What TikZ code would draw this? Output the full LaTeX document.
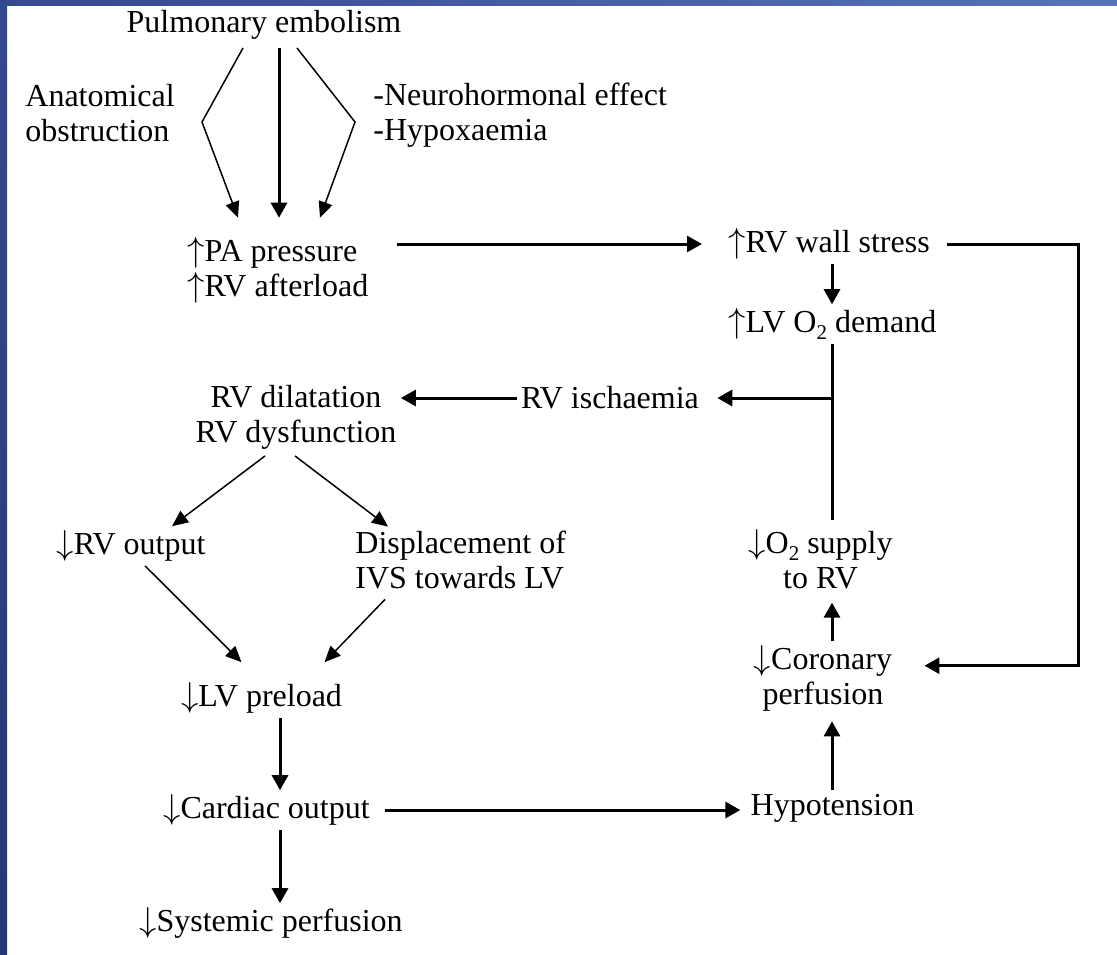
\documentclass[tikz,border=0pt]{standalone}
\usepackage{fontspec}
\setmainfont{Liberation Serif}
\usetikzlibrary{arrows.meta,positioning,calc}
\definecolor{FrameDark}{RGB}{36,56,118}
\definecolor{FrameMid}{RGB}{50,74,142}
\definecolor{FrameLight}{RGB}{86,116,182}
\newcommand{\upar}{$\uparrow$}
\newcommand{\dnar}{$\downarrow$}
\newcommand{\two}{\raisebox{-0.45ex}{\fontsize{10.5}{10.5}\selectfont 2}}

\begin{document}
\begin{tikzpicture}[x=0.5pt,y=-0.5pt,
    txt/.style={inner sep=2pt,font=\fontsize{16}{17.5}\selectfont},
    arr/.style={-{Triangle[length=7.5pt,width=8pt]},line width=1.5pt},
    thn/.style={-{Triangle[length=8pt,width=7pt]},line width=0.75pt},
    lin/.style={line width=1.5pt}
  ]
  \useasboundingbox (0,0) rectangle (1117,954);
  \shade[top color=FrameMid,bottom color=FrameDark] (0,0) rectangle (7,954);
  \shade[left color=FrameMid,right color=FrameLight] (0,0) rectangle (1117,5);

  \node[txt] (pe) at (264,25) {Pulmonary embolism};
  \node[txt,align=left,anchor=west] (anat) at (21,113) {Anatomical\\obstruction};
  \node[txt,align=left,anchor=west] (neuro) at (369,115.5) {-Neurohormonal effect\\-Hypoxaemia};
  \node[txt,align=left,anchor=west] (pa) at (183,270) {\upar PA pressure\\\upar RV afterload};
  \node[txt,anchor=west] (rvws) at (724,244) {\upar RV wall stress};
  \node[txt,anchor=west] (lvo2) at (724,324) {\upar LV O\two\ demand};
  \node[txt] (rvisch) at (610,398) {RV ischaemia};
  \node[txt,align=center] (rvdil) at (296,417.5) {RV dilatation\\RV dysfunction};
  \node[txt] (rvout) at (131,546) {\dnar RV output};
  \node[txt,align=left,anchor=west] (disp) at (351,560) {Displacement of\\IVS towards LV};
  \node[txt] (lvpre) at (261.5,698) {\dnar LV preload};
  \node[txt] (co) at (266.5,810) {\dnar Cardiac output};
  \node[txt] (sys) at (271,923) {\dnar Systemic perfusion};
  \node[txt] (hypo) at (832.5,808) {Hypotension};
  \node[txt,align=center] (cor) at (823,678) {\dnar Coronary\\perfusion};
  \node[txt,align=center] (o2s) at (820.5,559.5) {\dnar O\two\ supply\\to RV};

  \coordinate (colL) at (280,0);
  \coordinate (colR) at (832,0);
  \coordinate (kl) at (202,122);
  \coordinate (kr) at (355,122);

  \draw[thn] ($(pe.south)+(-21,4)$) -- (kl) -- ($(pa.north west)+(55,-15)$);
  \draw[arr] ($(pe.south)+(15,4)$) -- ($(pa.north west)+(96,-15)$);
  \draw[thn] ($(pe.south)+(33,4)$) -- (kr) -- ($(pa.north west)+(137,-15)$);
  \draw[arr,shorten <=12pt,shorten >=11pt] (rvws.west -| pa.east) -- (rvws.west);
  \draw[arr] (rvws.south -| colR) -- (lvo2.north -| colR);
  \draw[lin,shorten >=2.5pt] (lvo2.south -| colR) -- (o2s.north -| colR);
  \draw[arr,shorten >=7pt] (rvisch.east -| colR) -- (rvisch.east);
  \draw[arr] (rvisch.west) -- (rvisch.west -| rvdil.east);
  \draw[thn] ($(rvdil.south)+(-31,2)$) -- ($(rvout.north)+(41,0)$);
  \draw[thn] ($(rvdil.south)+(-1,2)$) -- ($(disp.north west)+(37,0)$);
  \draw[thn] ($(rvout.south)+(14,0)$) -- ($(lvpre.north)+(-20,-16)$);
  \draw[thn] ($(disp.south west)+(34,6)$) -- ($(lvpre.north)+(63,-16)$);
  \draw[arr] (lvpre.south -| colL) -- (co.north -| colL);
  \draw[arr] (co.south -| colL) -- (sys.north -| colL);
  \draw[arr,shorten <=5.5pt,shorten >=3pt] (co.east) -- (co.east -| hypo.west);
  \draw[arr,shorten >=3pt] (hypo.north -| colR) -- (cor.south -| colR);
  \draw[arr,shorten >=4.5pt] (cor.north -| colR) -- (o2s.south -| colR);
  \draw[arr] ($(rvws.east)+(13,0)$) -| ($(cor.north east)+(182,25)$) -- ($(cor.north east)+(28,25)$);
\end{tikzpicture}
\end{document}
